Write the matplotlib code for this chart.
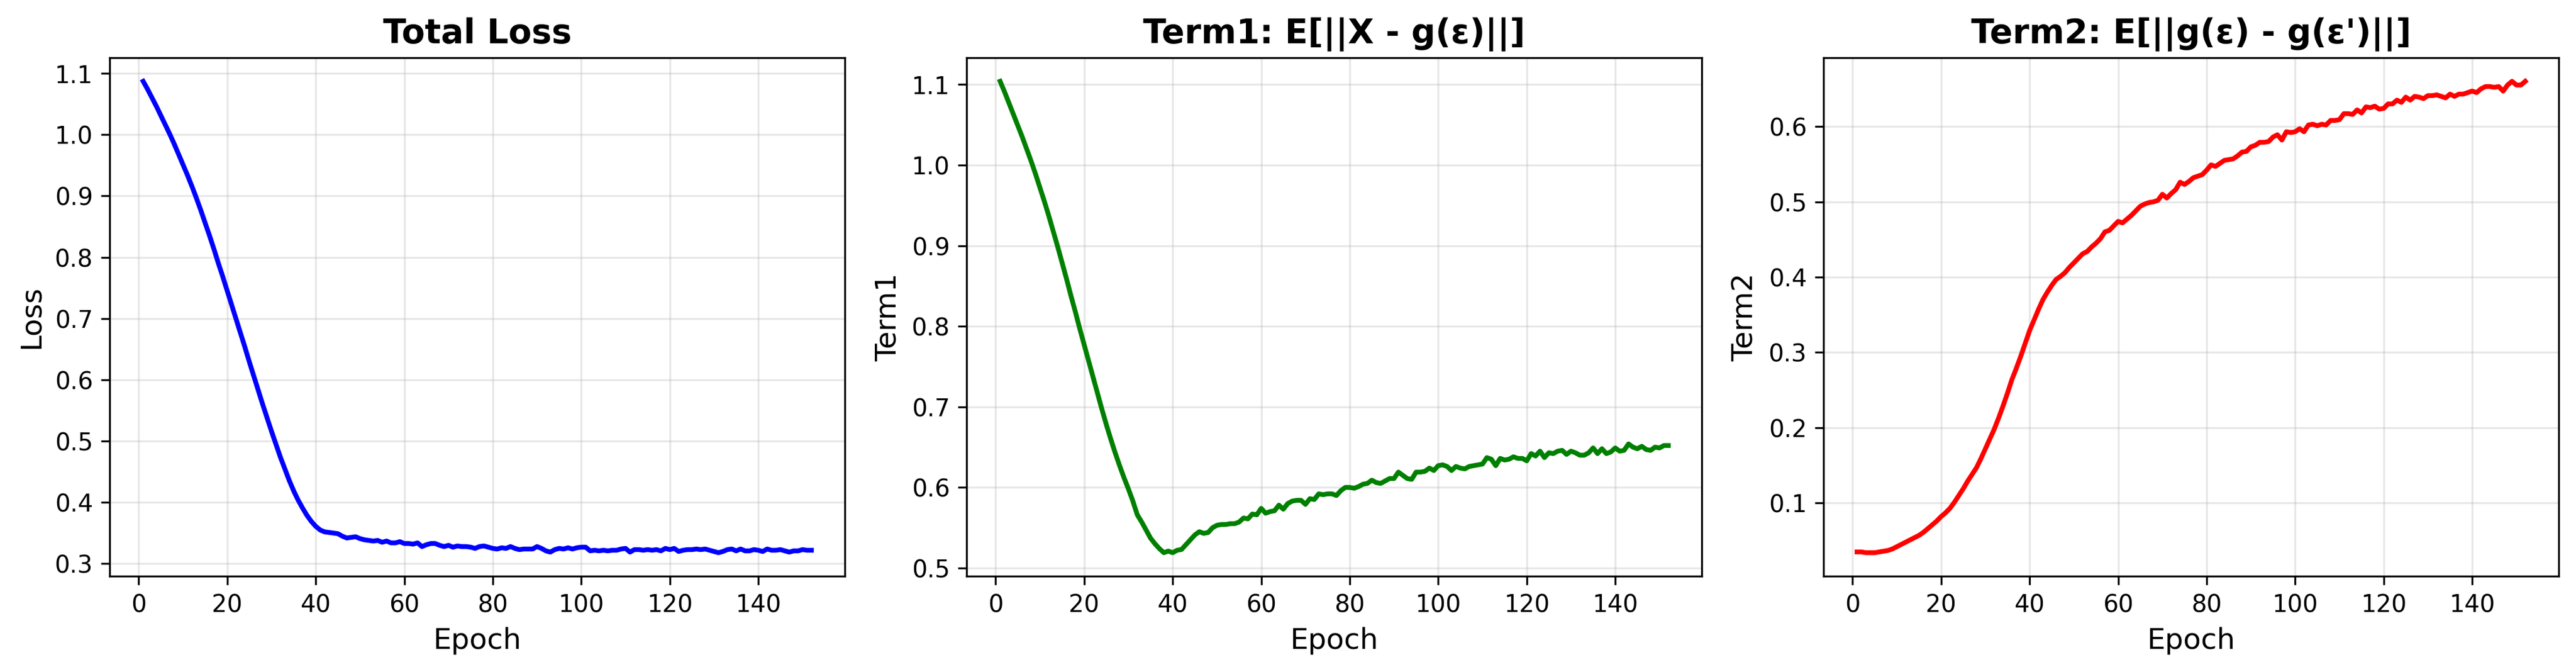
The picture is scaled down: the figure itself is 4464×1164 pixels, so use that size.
import numpy as np
import matplotlib
matplotlib.use('Agg')
import matplotlib.pyplot as plt

# values, one per epoch (1..152)
total_loss = [
    1.087, 1.074, 1.060, 1.046, 1.031, 1.016, 1.001, 0.985, 0.968, 0.951,
    0.934, 0.916, 0.897, 0.877, 0.856, 0.835, 0.813, 0.790, 0.768, 0.745,
    0.722, 0.699, 0.676, 0.653, 0.629, 0.606, 0.583, 0.560, 0.538, 0.516,
    0.495, 0.474, 0.455, 0.436, 0.419, 0.404, 0.391, 0.379, 0.369, 0.361,
    0.355, 0.352, 0.351, 0.350, 0.349, 0.345, 0.342, 0.343, 0.344, 0.341,
    0.339, 0.338, 0.337, 0.338, 0.335, 0.337, 0.334, 0.334, 0.336, 0.333,
    0.333, 0.332, 0.334, 0.328, 0.331, 0.333, 0.333, 0.330, 0.328, 0.330,
    0.327, 0.329, 0.328, 0.328, 0.327, 0.325, 0.328, 0.329, 0.327, 0.325,
    0.324, 0.326, 0.325, 0.328, 0.325, 0.323, 0.324, 0.324, 0.324, 0.328,
    0.325, 0.321, 0.319, 0.323, 0.325, 0.324, 0.326, 0.324, 0.326, 0.327,
    0.327, 0.321, 0.322, 0.321, 0.322, 0.321, 0.322, 0.322, 0.324, 0.325,
    0.319, 0.323, 0.323, 0.322, 0.323, 0.322, 0.323, 0.321, 0.325, 0.323,
    0.325, 0.320, 0.322, 0.323, 0.323, 0.324, 0.323, 0.324, 0.322, 0.320,
    0.318, 0.320, 0.323, 0.324, 0.321, 0.324, 0.321, 0.321, 0.323, 0.322,
    0.320, 0.324, 0.322, 0.322, 0.323, 0.321, 0.319, 0.321, 0.321, 0.323,
    0.322, 0.322,
]

term1 = [
    1.104, 1.091, 1.077, 1.063, 1.049, 1.035, 1.020, 1.005, 0.989, 0.972,
    0.955, 0.937, 0.918, 0.899, 0.879, 0.859, 0.838, 0.818, 0.797, 0.777,
    0.757, 0.737, 0.717, 0.697, 0.678, 0.660, 0.643, 0.627, 0.612, 0.598,
    0.583, 0.566, 0.557, 0.547, 0.537, 0.530, 0.524, 0.519, 0.521, 0.519,
    0.522, 0.523, 0.529, 0.535, 0.541, 0.545, 0.543, 0.544, 0.550, 0.553,
    0.554, 0.554, 0.555, 0.555, 0.557, 0.562, 0.561, 0.567, 0.566, 0.574,
    0.568, 0.570, 0.571, 0.578, 0.573, 0.580, 0.583, 0.584, 0.584, 0.579,
    0.586, 0.585, 0.592, 0.591, 0.592, 0.592, 0.590, 0.596, 0.600, 0.600,
    0.599, 0.601, 0.604, 0.605, 0.609, 0.606, 0.605, 0.608, 0.611, 0.611,
    0.619, 0.615, 0.611, 0.610, 0.619, 0.619, 0.620, 0.624, 0.621, 0.627,
    0.628, 0.626, 0.621, 0.626, 0.624, 0.623, 0.626, 0.627, 0.628, 0.629,
    0.637, 0.635, 0.627, 0.636, 0.634, 0.635, 0.638, 0.636, 0.636, 0.633,
    0.642, 0.639, 0.645, 0.637, 0.643, 0.642, 0.645, 0.646, 0.641, 0.645,
    0.643, 0.640, 0.640, 0.643, 0.649, 0.642, 0.648, 0.642, 0.644, 0.649,
    0.645, 0.646, 0.654, 0.650, 0.648, 0.651, 0.647, 0.646, 0.650, 0.649,
    0.652, 0.652,
]

term2 = [
    0.035, 0.035, 0.034, 0.034, 0.034, 0.035, 0.036, 0.037, 0.039, 0.042,
    0.045, 0.048, 0.051, 0.054, 0.057, 0.061, 0.066, 0.071, 0.076, 0.082,
    0.087, 0.093, 0.101, 0.110, 0.119, 0.129, 0.138, 0.147, 0.159, 0.172,
    0.185, 0.198, 0.213, 0.229, 0.246, 0.264, 0.279, 0.295, 0.312, 0.329,
    0.343, 0.357, 0.370, 0.380, 0.389, 0.397, 0.401, 0.406, 0.413, 0.419,
    0.425, 0.431, 0.434, 0.440, 0.445, 0.451, 0.460, 0.462, 0.468, 0.474,
    0.472, 0.477, 0.482, 0.488, 0.494, 0.497, 0.499, 0.500, 0.502, 0.510,
    0.505, 0.511, 0.516, 0.526, 0.523, 0.527, 0.532, 0.534, 0.536, 0.542,
    0.549, 0.547, 0.551, 0.555, 0.556, 0.557, 0.561, 0.566, 0.567, 0.573,
    0.575, 0.579, 0.579, 0.580, 0.586, 0.589, 0.582, 0.593, 0.592, 0.593,
    0.597, 0.593, 0.602, 0.603, 0.601, 0.603, 0.602, 0.608, 0.608, 0.609,
    0.617, 0.617, 0.616, 0.622, 0.618, 0.626, 0.625, 0.627, 0.623, 0.624,
    0.630, 0.630, 0.635, 0.632, 0.639, 0.635, 0.640, 0.639, 0.637, 0.641,
    0.641, 0.642, 0.640, 0.638, 0.643, 0.640, 0.643, 0.643, 0.645, 0.647,
    0.645, 0.650, 0.653, 0.653, 0.652, 0.653, 0.647, 0.655, 0.660, 0.655,
    0.655, 0.660,
]

epochs = np.arange(1, len(total_loss) + 1)

fig, axes = plt.subplots(1, 3, figsize=(15, 4))

panels = [
    (total_loss, 'b', 'Total Loss', 'Loss'),
    (term1, 'g', 'Term1: E[||X - g(ε)||]', 'Term1'),
    (term2, 'r', "Term2: E[||g(ε) - g(ε')||]", 'Term2'),
]

for ax, (vals, color, title, ylabel) in zip(axes, panels):
    ax.plot(epochs, vals, color=color, linewidth=2)
    ax.set_title(title, fontsize=14, fontweight='bold')
    ax.set_xlabel('Epoch', fontsize=12)
    ax.set_ylabel(ylabel, fontsize=12)
    ax.grid(True, alpha=0.3)

plt.tight_layout()
plt.savefig('out.png', dpi=300, bbox_inches='tight')
